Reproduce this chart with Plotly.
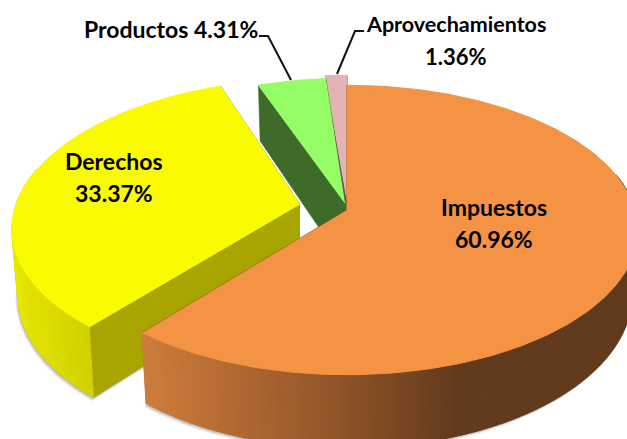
import numpy as np
import plotly.graph_objects as go

# Data
categories = ["Impuestos", "Derechos", "Productos", "Aprovechamientos"]
values = [60.96, 33.37, 4.31, 1.36]

# Styles / layout per slice
apex = [(347, 210), (300, 204), (345, 203), (347, 200)]
skew = [0.0, 0.07, 0.02, 0.0]
rx_scale = [1.0, 0.985, 1.0, 1.0]
top_col = ["#F39343", "#FBFB00", "#95FD66", "#E4B4B4"]
cut_col = ["#7A4522", "#A8A400", "#3E6B2A", "#6A5252"]
wall_stops = [
    [(143, "#CF7D3C"), (320, "#96582A"), (460, "#623A1C"), (640, "#623A1C")],
    [(10, "#E8E800"), (96, "#CFCF00")],
    [(250, "#3E6B2A"), (330, "#3E6B2A")],
    [(320, "#6A5252"), (350, "#6A5252")],
]
RX, RY, K, T, XS = 288, 142, 0.138, 63, 0.98


def rim(theta, i):
    c = apex[i]
    t = np.radians(theta)
    p = 1 / (1 + K * np.cos(t))
    dy = -RY * np.cos(t) * p
    return c[0] + RX * rx_scale[i] * np.sin(t) * p - skew[i] * dy, c[1] + dy, p


def low(theta, i):
    c = apex[i]
    x, y, p = rim(theta, i)
    return c[0] + (x - c[0]) * XS, y + T * p


def hex2rgb(h):
    return np.array([int(h[i:i + 2], 16) for i in (1, 3, 5)], float)


def grad(x, stops):
    xs = [s[0] for s in stops]
    cs = np.array([hex2rgb(s[1]) for s in stops])
    v = [np.interp(x, xs, cs[:, i]) for i in range(3)]
    return "rgb(%d,%d,%d)" % tuple(v)


def poly(fig, xs, ys, col, opacity=1.0, width=0.6):
    fig.add_trace(go.Scatter(
        x=list(xs), y=list(ys), mode="lines", fill="toself", fillcolor=col,
        opacity=opacity, line=dict(color=col, width=width),
        hoverinfo="skip", showlegend=False))


cum = np.cumsum([0] + values) / sum(values) * 360
fig = go.Figure()


def draw_slice(i):
    a0, a1 = cum[i], cum[i + 1]
    c = apex[i]
    th = np.linspace(a0, a1, max(int((a1 - a0) / 1.0), 6) + 1)
    rx, ry = zip(*[rim(t, i)[:2] for t in th])
    bx, by = zip(*[low(t, i) for t in th])
    bc = (c[0], c[1] + T)
    # soft shadow beneath the wall
    if i < 2:
        vis = [j for j, t in enumerate(th) if np.cos(np.radians(t)) < 0.25]
        for off, op in ((4, 0.12), (3, 0.18), (2, 0.25), (1, 0.3)):
            poly(fig, [bx[j] - off * 0.6 for j in vis] + [bc[0]],
                 [by[j] + off for j in vis] + [bc[1] + off], "#808080", op, width=0)
    # cut faces
    poly(fig, [c[0], rx[-1], bx[-1], bc[0]], [c[1], ry[-1], by[-1], bc[1]], cut_col[i])
    poly(fig, [c[0], rx[0], bx[0], bc[0]], [c[1], ry[0], by[0], bc[1]], cut_col[i])
    # outer wall, split so that its colour can run along x
    for j in range(len(th) - 1):
        if np.cos(np.radians(th[j])) > 0.25 and np.cos(np.radians(th[j + 1])) > 0.25:
            continue
        col = grad((rx[j] + rx[j + 1]) / 2, wall_stops[i])
        poly(fig, [rx[j], rx[j + 1], bx[j + 1], bx[j]],
             [ry[j], ry[j + 1], by[j + 1], by[j]], col, width=1.4)
    # top face
    poly(fig, [c[0]] + list(rx), [c[1]] + list(ry), top_col[i], width=1)


for i in (3, 2, 1, 0):
    draw_slice(i)

# Labels
labels = [
    (494, 207, "Impuestos", 23), (494, 239, f"{values[0]:.2f}%", 23),
    (114, 161, "Derechos", 23), (114, 193, f"{values[1]:.2f}%", 23),
    (171, 29, f"Productos {values[2]:.2f}%", 23),
    (456, 24, "Aprovechamientos", 21.5), (456, 56, f"{values[3]:.2f}%", 22),
]
annos = [dict(x=x, y=y, text=f"<b>{t}</b>", showarrow=False, xanchor="center", yanchor="middle",
              font=dict(family="Lato", size=s, color="#000000")) for x, y, t, s in labels]

leaders = ["M 259 36 L 268 36 L 291 80", "M 364 31 L 355 31 L 337 74"]
shapes = [dict(type="path", path=p, line=dict(color="#111111", width=2), xref="x", yref="y", layer="above")
          for p in leaders]

fig.update_layout(
    width=627, height=439, margin=dict(l=0, r=0, t=0, b=0),
    paper_bgcolor="white", plot_bgcolor="white", showlegend=False,
    xaxis=dict(range=[0, 627], visible=False, fixedrange=True),
    yaxis=dict(range=[439, 0], visible=False, fixedrange=True),
    annotations=annos, shapes=shapes,
)
fig.write_html("out.html", config={"displayModeBar": False},
               post_script="document.body.style.margin='0';document.body.style.overflow='hidden';window.dispatchEvent(new Event('resize'));")
